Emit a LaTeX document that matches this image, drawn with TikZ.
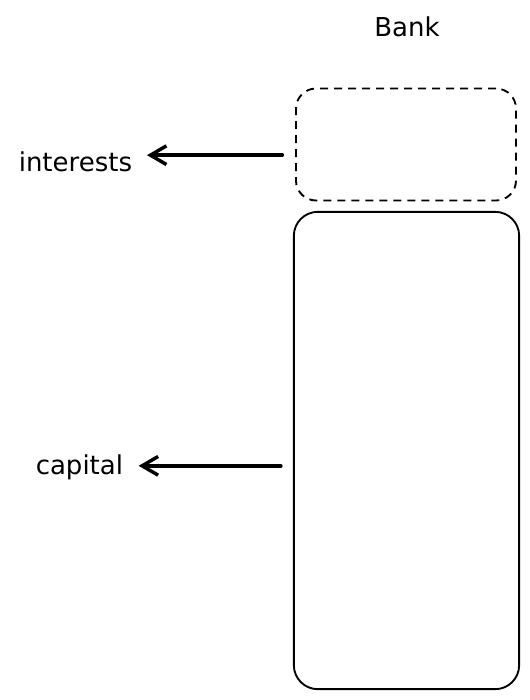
\documentclass[tikz,border=0pt]{standalone}
\usepackage{fontspec}
\setmainfont{DejaVu Sans}
\usepackage{tikz}
\usetikzlibrary{arrows.meta}

\begin{document}
\begin{tikzpicture}[x=0.75pt,y=-0.75pt,line width=1.4pt,
  font=\fontsize{19.5}{23}\selectfont,
  part/.style={draw,rounded corners=15pt,inner sep=0pt},
  arr/.style={-{Straight Barb[length=12pt,width=14pt]},line width=2.6pt,line cap=round},
  lbl/.style={anchor=east,inner sep=0pt}]
\useasboundingbox (0,0) rectangle (530,700);

\node (bank) at (407,27) {Bank};

\node [part,dashed,dash pattern=on 6pt off 4.5pt,minimum width=165pt,minimum height=84pt] (top) at (406,144.5) {};
\node [part,rounded corners=18pt,minimum width=169pt,minimum height=358pt] (body) at (406.5,450.5) {};

\node [lbl] (interests) at (133,162) {interests};
\node [lbl] (capital) at (124,467) {capital};

\coordinate (from1) at ([xshift=-9.5pt,yshift=-8pt]top.west);
\coordinate (from2) at ([xshift=-9pt,yshift=-11.5pt]body.west);

\draw[arr]  (from1)  --  ([xshift=10.5pt]interests.east |- from1);
\draw[arr]  (from2)  --  ([xshift=11pt]capital.east |- from2);

\end{tikzpicture}
\end{document}
